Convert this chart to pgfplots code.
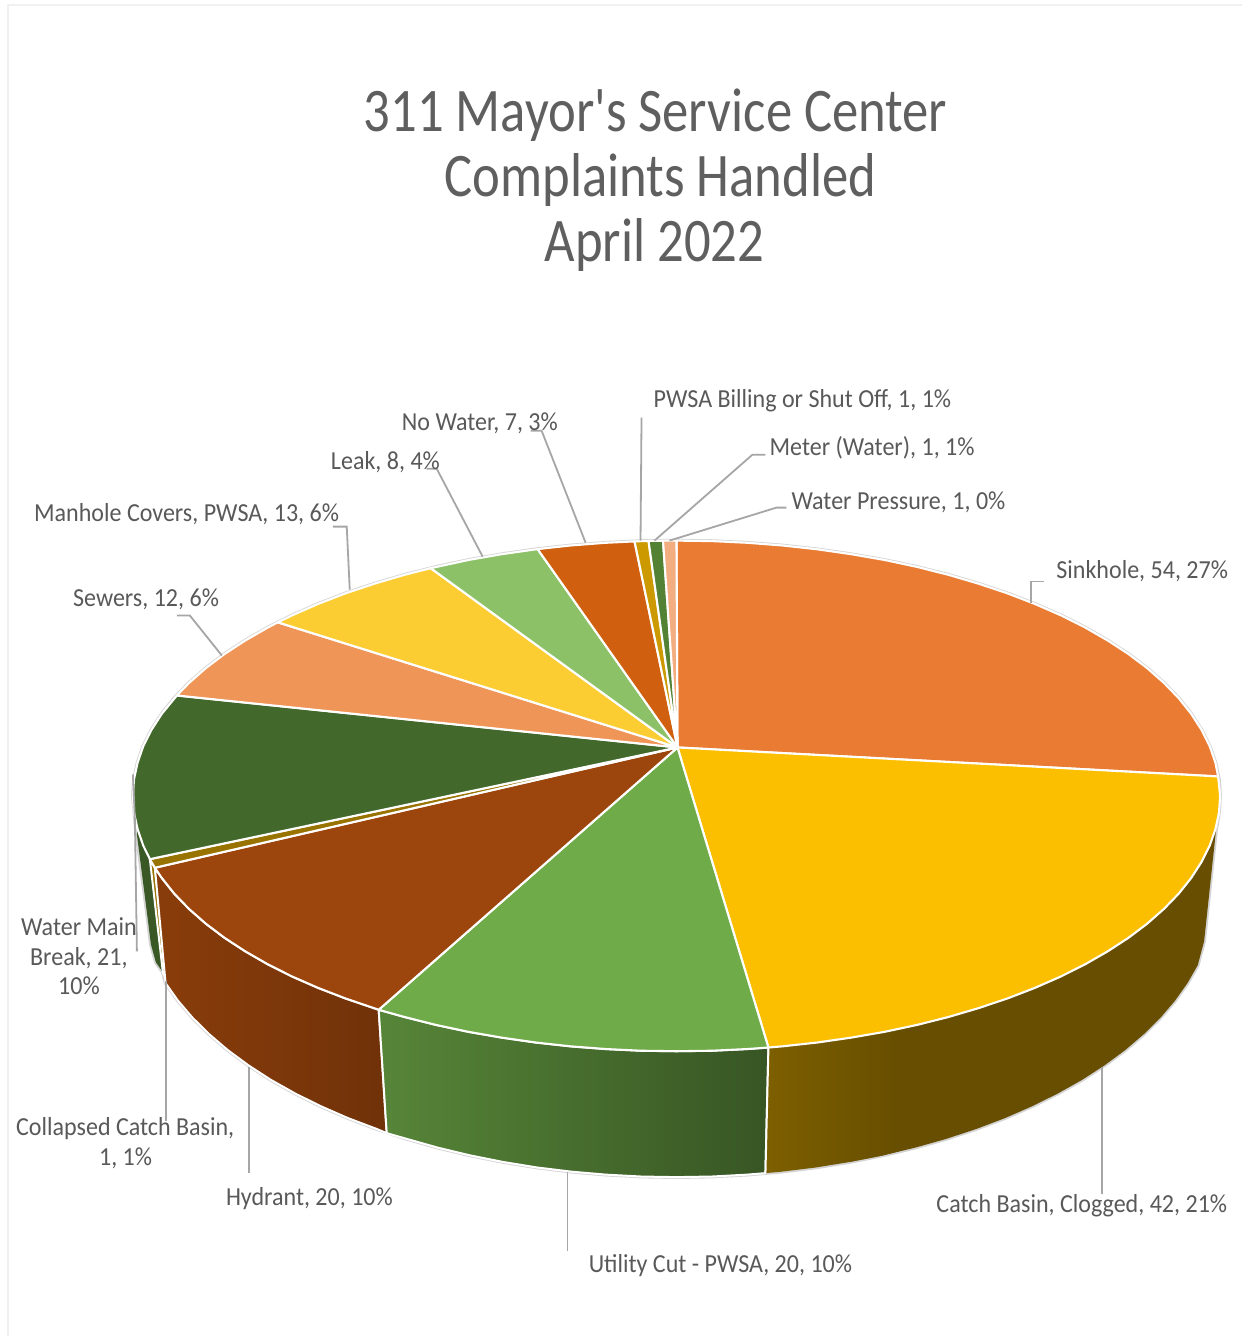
\documentclass[border=0pt]{standalone}
\usepackage{fontspec}
\setmainfont{Carlito}
\usepackage{pgfplots}
\pgfplotsset{compat=1.18}
\definecolor{txt}{HTML}{595959}
\definecolor{ttl}{HTML}{5F5F5F}
\definecolor{lead}{HTML}{A6A6A6}
\definecolor{rim}{HTML}{D4D4D4}
\definecolor{frame}{HTML}{F1F1F1}
\definecolor{sink}{HTML}{EA7B33}
\definecolor{catch}{HTML}{FBBF00}
\definecolor{util}{HTML}{6FAB48}
\definecolor{hyd}{HTML}{9C450C}
\definecolor{coll}{HTML}{997300}
\definecolor{wmain}{HTML}{43682B}
\definecolor{sew}{HTML}{EF9558}
\definecolor{man}{HTML}{FBCD33}
\definecolor{leak}{HTML}{8CC168}
\definecolor{nowat}{HTML}{D0600F}
\definecolor{bill}{HTML}{CC9A00}
\definecolor{meter}{HTML}{548235}
\definecolor{press}{HTML}{F2AE80}
\tikzset{
  lab/.style={font=\fontsize{26}{26}\selectfont, text=txt, anchor=base west, inner sep=0pt, xscale=0.925},
  ttlnode/.style={font=\fontsize{62}{62}\selectfont, text=ttl, anchor=base, inner sep=0pt, xscale=0.85},
  topedge/.style={draw=white, line width=2.1pt, line join=round},
  sedge/.style={draw=white, line width=2pt, line join=round},
  leader/.style={draw=lead, line width=1.8pt},
}
\begin{document}
\begin{tikzpicture}
\begin{axis}[
  scale only axis, width=1244pt, height=1337pt,
  xmin=0, xmax=1244, ymin=0, ymax=1337, y dir=reverse,
  axis lines=none, clip=false,
]
% whole canvas, keeps the page at full size
\addplot[fill=white, draw=none] coordinates {(0,0)(1244,0)(1244,1337)(0,1337)};
% frame of the chart area
\addplot[draw=frame, line width=2pt] coordinates {(8,1337)(8,5)(1243,5)};
% outline behind the pie
\addplot[draw=rim, line width=3.7pt, line join=round] coordinates {
  (133,796.5)(134.1,779.8)(137.7,763.2)(143.4,746.7)(151.6,730.4)(161.9,714.4)(174.4,698.7)(189.1,683.5)(205.9,668.7)(224.7,654.5)
  (245.4,641)(268,628)(292.3,615.8)(318.3,604.4)(345.8,593.8)(374.8,584.1)(405,575.2)(436.4,567.3)(468.8,560.4)(502.2,554.6)
  (536.2,549.7)(570.9,545.9)(606,543.2)(641.4,541.5)(677,541)(712.6,541.5)(748,543.2)(783.1,545.9)(817.8,549.7)(851.8,554.6)
  (885.2,560.4)(917.6,567.3)(949,575.2)(979.2,584.1)(1008.2,593.8)(1035.7,604.4)(1061.7,615.8)(1086,628)(1108.6,641)(1129.3,654.5)
  (1148.1,668.7)(1164.9,683.5)(1179.6,698.7)(1192.1,714.4)(1202.4,730.4)(1210.6,746.7)(1216.3,763.2)(1219.9,779.8)(1221,796.5)
  (1219.9,813.2)(1217,830)(1205,942)(1198.6,966)(1188.3,983.9)(1175.9,1001.4)(1161.3,1018.5)(1144.6,1035)(1126,1050.9)(1105.4,1066.1)
  (1083,1080.6)(1058.8,1094.2)(1033,1107)(1005.8,1118.9)(977,1129.8)(947,1139.7)(915.8,1148.5)(883.7,1156.2)(850.6,1162.8)(816.8,1168.3)
  (782.4,1172.5)(747.5,1175.5)(712.3,1177.4)(677,1178)(641.7,1177.4)(606.5,1175.5)(571.6,1172.5)(537.2,1168.3)(503.4,1162.8)(470.3,1156.2)
  (438.2,1148.5)(407,1139.7)(377,1129.8)(348.2,1118.9)(321,1107)(295.2,1094.2)(271,1080.6)(248.6,1066.1)(228,1050.9)(209.4,1035)(192.7,1018.5)
  (178.1,1001.4)(165.7,983.9)(163,973)(156,963)(151,945)(147,913)(136,830)(133,796.5)
};
% side walls
\addplot[fill=wmain!85!black, draw=none] coordinates {
  (137.7,829.8)(143.4,846.3)(150,860)(163,973)(156,963)(151,945)(147,913)(137,835)};
\addplot[fill=coll, sedge] coordinates {
  (150,860)(155,868.4)(167,982)(163,973)(150,860)};
\addplot[left color=hyd!88!black, right color=hyd!72!black, sedge] coordinates {
  (155,868.4)(161.9,878.6)(174.4,894.3)(189.1,909.5)(205.9,924.3)(224.7,938.5)(245.4,952)(268,965)(292.3,977.2)(318.3,988.6)(345.8,999.2)(379,1010.5)
  (387,1134)(377,1129.8)(348.2,1118.9)(321,1107)(295.2,1094.2)(271,1080.6)(248.6,1066.1)(228,1050.9)(209.4,1035)(192.7,1018.5)(178.1,1001.4)(165.7,983.9)(155,868.4)};
\addplot[left color=util!78!black, right color=util!50!black, sedge] coordinates {
  (379,1010.5)(405,1017.8)(436.4,1025.7)(468.8,1032.6)(502.2,1038.4)(536.2,1043.3)(570.9,1047.1)(606,1049.8)(641.4,1051.5)(677,1052)(712.6,1051.5)(748,1049.8)(769,1048.3)
  (766,1174)(747.5,1175.5)(712.3,1177.4)(677,1178)(641.7,1177.4)(606.5,1175.5)(571.6,1172.5)(537.2,1168.3)(503.4,1162.8)(470.3,1156.2)(438.2,1148.5)(407,1139.7)(387,1134)(379,1010.5)};
% catch basin wall: flat part, then the lighter strip at its left end
\addplot[fill=catch!41!black, draw=none] coordinates {
  (851.8,1038.4)(885.2,1032.6)(917.6,1025.7)(949,1017.8)(979.2,1008.9)(1008.2,999.2)(1035.7,988.6)(1061.7,977.2)(1086,965)(1108.6,952)(1129.3,938.5)
  (1148.1,924.3)(1164.9,909.5)(1179.6,894.3)(1192.1,878.6)(1202.4,862.6)(1210.6,846.3)(1217,830)
  (1205,942)(1198.6,966)(1188.3,983.9)(1175.9,1001.4)(1161.3,1018.5)(1144.6,1035)(1126,1050.9)(1105.4,1066.1)(1083,1080.6)(1058.8,1094.2)(1033,1107)
  (1005.8,1118.9)(977,1129.8)(947,1139.7)(915.8,1148.5)(883.7,1156.2)(850.6,1162.8)};
\addplot[left color=catch!50!black, right color=catch!41!black, draw=none] coordinates {
  (769,1048.3)(783.1,1047.1)(817.8,1043.3)(851.8,1038.4)(885.2,1032.6)(900,1029)(900,1152)(883.7,1156.2)(850.6,1162.8)(816.8,1168.3)(782.4,1172.5)(766,1174)};
\addplot[sedge] coordinates {(769,1048.3)(766,1174)};
% top face
\addplot[fill=sink, topedge] coordinates {
  (678,748)(677,541)(712.6,541.5)(748,543.2)(783.1,545.9)(817.8,549.7)(851.8,554.6)(885.2,560.4)(917.6,567.3)(949,575.2)(979.2,584.1)(1008.2,593.8)
  (1035.7,604.4)(1061.7,615.8)(1086,628)(1108.6,641)(1129.3,654.5)(1148.1,668.7)(1164.9,683.5)(1179.6,698.7)(1192.1,714.4)(1202.4,730.4)(1210.6,746.7)(1216.3,763.2)(1219,777)(678,748)};
\addplot[fill=catch, topedge] coordinates {
  (678,748)(1219,777)(1221,796.5)(1219.9,813.2)(1216.3,829.8)(1210.6,846.3)(1202.4,862.6)(1192.1,878.6)(1179.6,894.3)(1164.9,909.5)(1148.1,924.3)(1129.3,938.5)(1108.6,952)
  (1086,965)(1061.7,977.2)(1035.7,988.6)(1008.2,999.2)(979.2,1008.9)(949,1017.8)(917.6,1025.7)(885.2,1032.6)(851.8,1038.4)(817.8,1043.3)(783.1,1047.1)(769,1048.3)(678,748)};
\addplot[fill=util, topedge] coordinates {
  (678,748)(769,1048.3)(748,1049.8)(712.6,1051.5)(677,1052)(641.4,1051.5)(606,1049.8)(570.9,1047.1)(536.2,1043.3)(502.2,1038.4)(468.8,1032.6)(436.4,1025.7)(405,1017.8)(379,1010.5)(678,748)};
\addplot[fill=hyd, topedge] coordinates {
  (678,748)(379,1010.5)(345.8,999.2)(318.3,988.6)(292.3,977.2)(268,965)(245.4,952)(224.7,938.5)(205.9,924.3)(189.1,909.5)(174.4,894.3)(161.9,878.6)(155,868.4)(678,748)};
\addplot[fill=coll, topedge] coordinates {(678,748)(155,868.4)(150,859.8)(678,748)};
\addplot[fill=wmain, topedge] coordinates {
  (678,748)(150,859.8)(143.4,846.3)(137.7,829.8)(134.1,813.2)(133,796.5)(134.1,779.8)(137.7,763.2)(143.4,746.7)(151.6,730.4)(161.9,714.4)(177,696)(678,748)};
\addplot[fill=sew, topedge] coordinates {(678,748)(177,696)(189.1,683.5)(205.9,668.7)(224.7,654.5)(245.4,641)(268,628)(278,622.8)(678,748)};
\addplot[fill=man, topedge] coordinates {(678,748)(278,622.8)(292.3,615.8)(318.3,604.4)(345.8,593.8)(374.8,584.1)(405,575.2)(431,568.6)(678,748)};
\addplot[fill=leak, topedge] coordinates {(678,748)(431,568.6)(468.8,560.4)(502.2,554.6)(538,549.5)(678,748)};
\addplot[fill=nowat, topedge] coordinates {(678,748)(538,549.5)(570.9,545.9)(606,543.2)(635,541.8)(678,748)};
\addplot[fill=bill, topedge] coordinates {(678,748)(635,541.8)(649,541.3)(678,748)};
\addplot[fill=meter, topedge] coordinates {(678,748)(649,541.3)(663.5,541.1)(678,748)};
\addplot[fill=press, topedge] coordinates {(678,748)(663.5,541.1)(677,541)(678,748)};
% leader lines
\addplot[leader] coordinates {(1032,603)(1032,582)(1045,582)};
\addplot[leader] coordinates {(1103,1068)(1103,1195)};
\addplot[leader] coordinates {(568,1173)(568,1252)};
\addplot[leader] coordinates {(249,1068)(249,1174)};
\addplot[leader] coordinates {(166,982)(166,1122)};
\addplot[leader] coordinates {(133,775)(135,820)(137,952)};
\addplot[leader] coordinates {(222,656)(190,616)(177,616)};
\addplot[leader] coordinates {(350,590)(347,527)(333,527)};
\addplot[leader] coordinates {(483,557)(437,469)(427,469)};
\addplot[leader] coordinates {(586,543)(542,431)(531,431)};
\addplot[leader] coordinates {(641,541)(642,418)};
\addplot[leader] coordinates {(655,541)(753,455)(766,455)};
\addplot[leader] coordinates {(670,541)(777,508)(787,508)};
% title
\node[ttlnode] at (axis cs:656,132) {311 Mayor\textquotesingle s Service Center};
\node[ttlnode] at (axis cs:661,197) {Complaints Handled};
\node[ttlnode] at (axis cs:655,262) {April 2022};
% data labels
\node[lab] at (axis cs:1057,579) {Sinkhole, 54, 27\%};
\node[lab] at (axis cs:937,1213) {Catch Basin, Clogged, 42, 21\%};
\node[lab] at (axis cs:589,1273) {Utility Cut - PWSA, 20, 10\%};
\node[lab] at (axis cs:226,1206) {Hydrant, 20, 10\%};
\node[lab] at (axis cs:16,1136) {Collapsed Catch Basin,};
\node[lab] at (axis cs:99,1166) {1, 1\%};
\node[lab] at (axis cs:21,936) {Water Main};
\node[lab] at (axis cs:30,966) {Break, 21,};
\node[lab] at (axis cs:58,995) {10\%};
\node[lab] at (axis cs:73,607) {Sewers, 12, 6\%};
\node[lab] at (axis cs:34,522) {Manhole Covers, PWSA, 13, 6\%};
\node[lab] at (axis cs:331,470) {Leak, 8, 4\%};
\node[lab] at (axis cs:402,431) {No Water, 7, 3\%};
\node[lab] at (axis cs:654,408) {PWSA Billing or Shut Off, 1, 1\%};
\node[lab] at (axis cs:770,456) {Meter (Water), 1, 1\%};
\node[lab] at (axis cs:792,510) {Water Pressure, 1, 0\%};
\end{axis}
\end{tikzpicture}
\end{document}
